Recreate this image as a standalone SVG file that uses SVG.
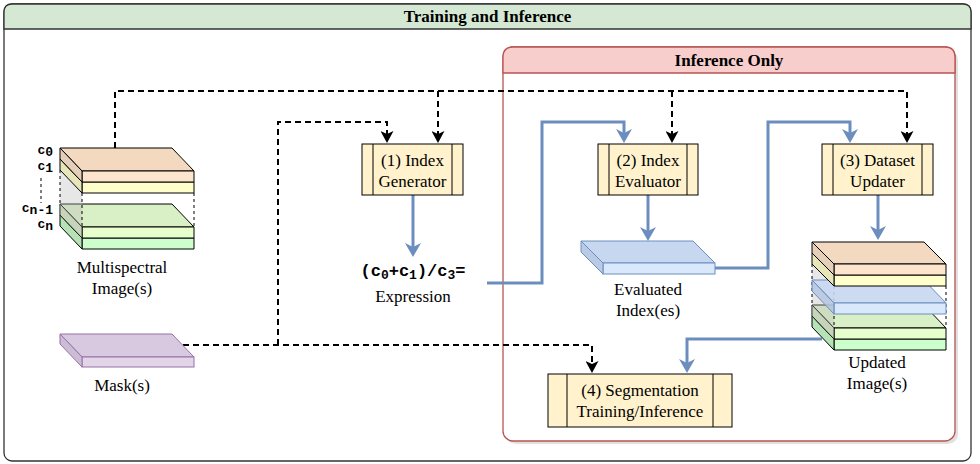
<svg xmlns="http://www.w3.org/2000/svg" width="980" height="464" viewBox="0 0 980 464">
<defs>
<style>
.lbl{font-family:"Liberation Serif","Times New Roman",serif;font-size:17px;fill:#000;text-anchor:middle}
.ttl{font-family:"Liberation Serif","Times New Roman",serif;font-size:17px;font-weight:bold;fill:#000;text-anchor:middle}
.mono{font-family:"Liberation Mono","Courier New",monospace;font-weight:bold;font-size:13px;fill:#000}
.dash{fill:none;stroke:#000;stroke-width:2;stroke-dasharray:6 4}
.blue{fill:none;stroke:#6c8ebf;stroke-width:3}
.box{fill:#fff2cc;stroke:#000;stroke-width:1}
.bar{stroke:#000;stroke-width:1}
.gl{stroke:#000;stroke-width:1;stroke-linejoin:round}
.gd{fill:none;stroke:#000;stroke-width:1;stroke-dasharray:3 3}
</style>
<marker id="ak" viewBox="0 0 12 13" refX="3" refY="6.5" markerWidth="12" markerHeight="13" markerUnits="userSpaceOnUse" orient="auto">
<path d="M0,0 L12,6.5 L0,13 L3,6.5 Z" fill="#000"/>
</marker>
<marker id="ab" viewBox="0 0 14 16" refX="4" refY="8" markerWidth="14" markerHeight="16" markerUnits="userSpaceOnUse" orient="auto">
<path d="M0,0 L14,8 L0,16 L4,8 Z" fill="#6c8ebf"/>
</marker>
</defs>

<g id="container-training">
<rect x="4" y="4" width="967" height="457" rx="8" fill="#fff" stroke="#333" stroke-width="1.3"/>
<path d="M4,29 V12 Q4,4 12,4 H963 Q971,4 971,12 V29 Z" fill="#d5e8d4" stroke="#333" stroke-width="1.3"/>
<text class="ttl" x="487.5" y="22">Training and Inference</text>
</g>

<g id="container-inference">
<rect x="506" y="50" width="452" height="394" rx="10" fill="#000" opacity="0.12"/>
<rect x="503" y="47" width="452" height="394" rx="10" fill="#fff" stroke="#b85450" stroke-width="1.3"/>
<path d="M503,73 V57 Q503,47 513,47 H945 Q955,47 955,57 V73 Z" fill="#f8cecc" stroke="#b85450" stroke-width="1.3"/>
<text class="ttl" x="729" y="66">Inference Only</text>
</g>

<g id="connectors">
<path class="dash" d="M115,148 V91 H907 V134" marker-end="url(#ak)"/>
<path class="dash" d="M438,91 V134" marker-end="url(#ak)"/>
<path class="dash" d="M672,91 V134" marker-end="url(#ak)"/>
<path class="dash" d="M183,345 H592 V364" marker-end="url(#ak)"/>
<path class="dash" d="M278,345 V122 H387 V134" marker-end="url(#ak)"/>
<path class="blue" d="M413,195 V247" marker-end="url(#ab)"/>
<path class="blue" d="M487,283 H542 V122 H624 V133" marker-end="url(#ab)"/>
<path class="blue" d="M648,195 V231" marker-end="url(#ab)"/>
<path class="blue" d="M715,268 H768 V122 H850 V133" marker-end="url(#ab)"/>
<path class="blue" d="M878,195 V230" marker-end="url(#ab)"/>
<path class="blue" d="M822,339 H687 V363" marker-end="url(#ab)"/>
</g>

<g id="multispectral">
<polygon class="gl" points="60,215 172,215 194,238 82,238" fill="#c2eec2"/>
<rect class="gl" x="82" y="238" width="112" height="11" fill="#ccffcc"/>
<polygon class="gl" points="60,215 82,238 82,249 60,226" fill="#b6e3b6"/>
<polygon class="gl" points="60,204 172,204 194,227 82,227" fill="#d9efc5"/>
<rect class="gl" x="82" y="227" width="112" height="11" fill="#e6ffcc"/>
<polygon class="gl" points="60,204 82,227 82,238 60,215" fill="#cde3b9"/>
<polygon points="60,170 82,193 82,238 60,215" fill="#bbbbbb" opacity="0.35"/>
<path class="gd" d="M60,170 V204 M82,193 V227 M194,193 V227"/>
<polygon class="gl" points="60,159 172,159 194,182 82,182" fill="#f0f0c0"/>
<rect class="gl" x="82" y="182" width="112" height="11" fill="#ffffcc"/>
<polygon class="gl" points="60,159 82,182 82,193 60,170" fill="#e6e6b8"/>
<polygon class="gl" points="60,148 172,148 194,171 82,171" fill="#f2d9bf"/>
<rect class="gl" x="82" y="171" width="112" height="11" fill="#fde5cd"/>
<polygon class="gl" points="60,148 82,171 82,182 60,159" fill="#e6cfb8"/>
<text class="mono" x="53" y="154" text-anchor="end">c<tspan dy="2">0</tspan></text>
<text class="mono" x="53" y="170" text-anchor="end">c<tspan dy="2">1</tspan></text>
<path d="M41,178 V203" fill="none" stroke="#000" stroke-width="1" stroke-dasharray="3 3"/>
<text class="mono" x="53" y="212" text-anchor="end">c<tspan dy="2">n-1</tspan></text>
<text class="mono" x="53" y="228" text-anchor="end">c<tspan dy="2">n</tspan></text>
<text class="lbl" x="122" y="273">Multispectral</text>
<text class="lbl" x="122" y="294">Image(s)</text>
</g>

<g id="mask">
<polygon points="60,334 172,334 194,357 82,357" fill="#d8c8e0" stroke="#9673a6" stroke-width="1"/>
<rect x="82" y="357" width="112" height="10" fill="#e1d5e7" stroke="#9673a6" stroke-width="1"/>
<polygon points="60,334 82,357 82,367 60,344" fill="#cdbcd6" stroke="#9673a6" stroke-width="1"/>
<text class="lbl" x="122" y="391">Mask(s)</text>
</g>

<g id="index-generator">
<rect class="box" x="362" y="144" width="101" height="51"/>
<line class="bar" x1="373" y1="144" x2="373" y2="195"/>
<line class="bar" x1="452" y1="144" x2="452" y2="195"/>
<text class="lbl" x="412.5" y="166">(1) Index</text>
<text class="lbl" x="412.5" y="187">Generator</text>
</g>

<g id="expression">
<text class="mono" x="413" y="276" text-anchor="middle" style="font-size:17px">(c<tspan dy="3" style="font-size:13px">0</tspan><tspan dy="-3">+c</tspan><tspan dy="3" style="font-size:13px">1</tspan><tspan dy="-3">)/c</tspan><tspan dy="3" style="font-size:13px">3</tspan><tspan dy="-3">=</tspan></text>
<text class="lbl" x="413" y="302">Expression</text>
</g>

<g id="index-evaluator">
<rect class="box" x="598" y="144" width="100" height="51"/>
<line class="bar" x1="609" y1="144" x2="609" y2="195"/>
<line class="bar" x1="687" y1="144" x2="687" y2="195"/>
<text class="lbl" x="648" y="166">(2) Index</text>
<text class="lbl" x="648" y="187">Evaluator</text>
</g>

<g id="evaluated-index">
<polygon points="581,241 693,241 715,263 603,263" fill="#c6d7ef" stroke="#6c8ebf" stroke-width="1"/>
<rect x="603" y="263" width="112" height="11" fill="#dae8fc" stroke="#6c8ebf" stroke-width="1"/>
<polygon points="581,241 603,263 603,274 581,252" fill="#b8cae4" stroke="#6c8ebf" stroke-width="1"/>
<text class="lbl" x="648" y="295">Evaluated</text>
<text class="lbl" x="648" y="316">Index(es)</text>
</g>

<g id="dataset-updater">
<rect class="box" x="822" y="144" width="111" height="51"/>
<line class="bar" x1="833" y1="144" x2="833" y2="195"/>
<line class="bar" x1="922" y1="144" x2="922" y2="195"/>
<text class="lbl" x="877.5" y="166">(3) Dataset</text>
<text class="lbl" x="877.5" y="187">Updater</text>
</g>

<g id="updated-images">
<polygon class="gl" points="812,316 924,316 946,339 834,339" fill="#c2eec2"/>
<rect class="gl" x="834" y="339" width="112" height="11" fill="#ccffcc"/>
<polygon class="gl" points="812,316 834,339 834,350 812,327" fill="#b6e3b6"/>
<polygon class="gl" points="812,305 924,305 946,328 834,328" fill="#d9efc5"/>
<rect class="gl" x="834" y="328" width="112" height="11" fill="#e6ffcc"/>
<polygon class="gl" points="812,305 834,328 834,339 812,316" fill="#cde3b9"/>
<polygon points="812,264 834,286 834,339 812,316" fill="#bbbbbb" opacity="0.35"/>
<path class="gd" d="M812,264 V305 M834,286 V328 M946,286 V328"/>
<polygon points="812,280 924,280 946,303 834,303" fill="#c6d7ef" stroke="#6c8ebf" stroke-width="1" fill-opacity="0.9"/>
<rect x="834" y="303" width="112" height="11" fill="#dae8fc" stroke="#6c8ebf" stroke-width="1"/>
<polygon points="812,280 834,303 834,314 812,291" fill="#b4c6df" stroke="#6c8ebf" stroke-width="1" fill-opacity="0.85"/>
<polygon class="gl" points="812,253 924,253 946,275 834,275" fill="#f0f0c0"/>
<rect class="gl" x="834" y="275" width="112" height="11" fill="#ffffcc"/>
<polygon class="gl" points="812,253 834,275 834,286 812,264" fill="#e6e6b8"/>
<polygon class="gl" points="812,242 924,242 946,264 834,264" fill="#f2d9bf"/>
<rect class="gl" x="834" y="264" width="112" height="11" fill="#fde5cd"/>
<polygon class="gl" points="812,242 834,264 834,275 812,253" fill="#e6cfb8"/>
<text class="lbl" x="877" y="368">Updated</text>
<text class="lbl" x="877" y="389">Image(s)</text>
</g>

<g id="segmentation">
<rect class="box" x="548" y="374" width="184" height="53"/>
<line class="bar" x1="567" y1="374" x2="567" y2="427"/>
<line class="bar" x1="713" y1="374" x2="713" y2="427"/>
<text class="lbl" x="640" y="396">(4) Segmentation</text>
<text class="lbl" x="640" y="417">Training/Inference</text>
</g>
</svg>
